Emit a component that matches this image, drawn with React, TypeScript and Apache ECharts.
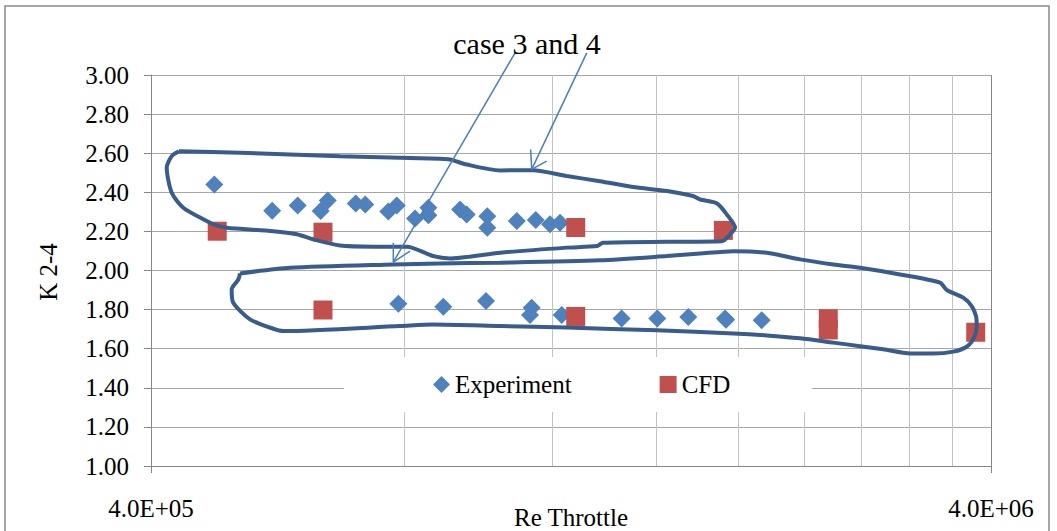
import React, { useEffect, useRef } from "react";
import * as echarts from "echarts";

// ---- data ----
const xMajorTicks = [4e5, 4e6];
const xMinorGrid = [8e5, 1.2e6, 1.6e6, 2.0e6, 2.4e6, 2.8e6, 3.2e6, 3.6e6];

const experiment: [number, number][] = [
  [475800, 2.44], [557600, 2.306], [598000, 2.333], [636900, 2.304], [649300, 2.358],
  [701100, 2.343], [719700, 2.338], [766600, 2.302], [784500, 2.333], [825000, 2.266],
  [855600, 2.321], [855600, 2.282], [933300, 2.312], [950400, 2.287], [1005700, 2.278],
  [1005700, 2.219], [1090300, 2.253], [1148400, 2.258], [1194200, 2.236], [1227400, 2.244],
  [788000, 1.83], [891400, 1.815], [1002000, 1.844], [1135700, 1.81], [1130400, 1.772],
  [1233100, 1.772], [1453300, 1.755], [1602400, 1.755], [1744600, 1.762], [1929600, 1.755],
  [1935000, 1.748], [2133400, 1.746],
];

const cfd: [number, number][] = [
  [479600, 2.201], [640900, 2.196], [640900, 1.798], [1281400, 2.22], [1281400, 1.765],
  [1920600, 2.205], [2560600, 1.753], [2560600, 1.696], [3836000, 1.684],
];

// hand-drawn annotation outlines (Re, K)
const outlineUpper: [number, number][] = [
  [431900, 2.61], [510500, 2.602], [671500, 2.585], [883300, 2.572], [907900, 2.568],
  [950400, 2.542], [1041400, 2.512], [1140000, 2.513], [1250200, 2.483], [1369400, 2.457],
  [1499500, 2.427], [1646100, 2.407], [1767300, 2.381], [1801900, 2.363], [1887800, 2.343],
  [1945600, 2.278], [1983200, 2.22], [1956400, 2.185], [1912400, 2.15], [1646100, 2.147],
  [1380700, 2.142], [1358500, 2.125], [1251000, 2.117], [1041400, 2.091], [907900, 2.062],
  [866600, 2.074], [806800, 2.122], [735700, 2.122], [671500, 2.128], [624200, 2.159],
  [596600, 2.185], [559300, 2.201], [492200, 2.219], [476700, 2.233], [466000, 2.253],
  [437000, 2.321], [423400, 2.398], [417600, 2.526], [423400, 2.585], [431900, 2.61],
];

const outlineLower: [number, number][] = [
  [510500, 1.985], [585500, 2.014], [777200, 2.031], [883300, 2.036], [1041400, 2.04],
  [1369400, 2.052], [1644600, 2.074], [1801900, 2.087], [1973900, 2.099], [2163000, 2.091],
  [2370300, 2.057], [2596200, 2.031], [2793600, 2.014], [3117300, 1.98], [3478700, 1.938],
  [3543200, 1.9], [3707200, 1.861], [3793700, 1.818], [3838800, 1.767], [3846400, 1.716],
  [3818100, 1.656], [3742400, 1.61], [3607800, 1.585], [3415400, 1.575], [3203800, 1.576],
  [2976200, 1.597], [2793600, 1.613], [2596200, 1.631], [2370300, 1.653], [2163000, 1.668],
  [1973900, 1.678], [1599800, 1.694], [1250200, 1.708], [1041400, 1.716], [867400, 1.724],
  [791600, 1.716], [574900, 1.69], [559300, 1.702], [524700, 1.75], [501200, 1.835],
  [499000, 1.903], [508200, 1.954], [510500, 1.985],
];

const arrow1Shaft: [number, number][] = [[1085000, 3.113], [777200, 2.043]];
const arrow1Head: [number, number][] = [[777200, 2.142], [777200, 2.043], [813600, 2.099]];
const arrow2Shaft: [number, number][] = [[1320700, 3.113], [1135700, 2.517]];
const arrow2Head: [number, number][] = [[1132600, 2.619], [1135700, 2.517], [1183200, 2.559]];

const FONT = "Liberation Serif, Times New Roman, serif";

const fmtSci = (v: number) => {
  const e = Math.floor(Math.log10(v) + 1e-9);
  const m = v / Math.pow(10, e);
  return m.toFixed(1) + "E" + (e >= 0 ? "+" : "-") + String(Math.abs(e)).padStart(2, "0");
};

export default function App() {
  const ref = useRef<HTMLDivElement>(null);
  useEffect(() => {
    if (!ref.current) return;
    const chart = echarts.init(ref.current, undefined, { renderer: "svg" });
    const outlineStyle = { color: "#385c8c", width: 4 };
    const arrowStyle = { color: "#4a7ebb", width: 1.5 };
    const lineSeries = (data: [number, number][], style: any, smooth: number | boolean, z: number) => ({
      type: "line",
      data,
      xAxisIndex: 0,
      yAxisIndex: 0,
      showSymbol: false,
      symbol: "none",
      smooth,
      clip: false,
      silent: true,
      lineStyle: style,
      z,
      legendHoverLink: false,
      tooltip: { show: false },
    });
    chart.setOption({
      animation: false,
      textStyle: { fontFamily: FONT },
      grid: { left: 151, top: 75, width: 840, height: 391, containLabel: false },
      xAxis: [
        {
          type: "log",
          logBase: 10,
          min: 4e5,
          max: 4e6,
          axisLine: { show: true, lineStyle: { color: "#868686", width: 1 } },
          axisTick: { show: true, length: 7, inside: false, customValues: xMajorTicks, lineStyle: { color: "#868686" } },
          axisLabel: {
            show: true,
            customValues: xMajorTicks,
            formatter: (v: number) => fmtSci(v),
            fontSize: 25,
            fontFamily: FONT,
            color: "#000",
            margin: 30,
          },
          splitLine: { show: true, lineStyle: { color: "#868686", width: 1 } },
          z: 2,
        },
        {
          type: "log",
          logBase: 10,
          min: 4e5,
          max: 4e6,
          axisLine: { show: false },
          axisTick: { show: false, customValues: xMinorGrid },
          axisLabel: { show: false, customValues: xMinorGrid },
          splitLine: { show: true, lineStyle: { color: "#c3c3c3", width: 1 } },
          z: 1,
        },
      ],
      yAxis: {
        type: "value",
        min: 1,
        max: 3,
        interval: 0.2,
        axisLine: { show: true, lineStyle: { color: "#868686", width: 1 } },
        axisTick: { show: true, length: 7, lineStyle: { color: "#868686" } },
        axisLabel: {
          formatter: (v: number) => v.toFixed(2),
          fontSize: 25,
          fontFamily: FONT,
          color: "#000",
          margin: 22,
        },
        splitLine: { show: true, lineStyle: { color: "#a6a6a6", width: 1 } },
      },
      legend: {
        data: ["Experiment", "CFD"],
        left: 344,
        top: 357,
        orient: "horizontal",
        itemWidth: 17,
        itemHeight: 17,
        itemGap: 88,
        padding: [15, 82, 15, 89],
        backgroundColor: "#ffffff",
        textStyle: { fontSize: 25, fontFamily: FONT, color: "#000" },
        z: 4,
      },
      series: [
        {
          name: "Experiment",
          type: "scatter",
          symbol: "diamond",
          symbolSize: 18,
          itemStyle: { color: "#4f81bd", opacity: 1 },
          data: experiment,
          z: 3,
        },
        {
          name: "CFD",
          type: "scatter",
          symbol: "rect",
          symbolSize: 19,
          itemStyle: { color: "#c0504d", opacity: 1 },
          data: cfd,
          z: 3,
        },
        lineSeries(outlineUpper, outlineStyle, 0.25, 5),
        lineSeries(outlineLower, outlineStyle, 0.25, 5),
        lineSeries(arrow1Shaft, arrowStyle, false, 6),
        lineSeries(arrow1Head, arrowStyle, false, 6),
        lineSeries(arrow2Shaft, arrowStyle, false, 6),
        lineSeries(arrow2Head, arrowStyle, false, 6),
      ],
      graphic: [
        {
          type: "rect",
          shape: { x: 5, y: 6, width: 1044, height: 540 },
          style: { fill: "none", stroke: "#8a8a8a", lineWidth: 1.5 },
          silent: true,
          z: 0,
        },
        {
          type: "text",
          x: 527,
          y: 43,
          style: {
            text: "case 3 and 4",
            fontSize: 30,
            fontFamily: FONT,
            fill: "#000",
            align: "center",
            verticalAlign: "middle",
            textAlign: "center",
            textVerticalAlign: "middle",
          },
          z: 10,
        },
        {
          type: "text",
          x: 48,
          y: 272,
          rotation: Math.PI / 2,
          style: {
            text: "K 2-4",
            fontSize: 25,
            fontFamily: FONT,
            fill: "#000",
            align: "center",
            verticalAlign: "middle",
            textAlign: "center",
            textVerticalAlign: "middle",
          },
          z: 10,
        },
        {
          type: "text",
          x: 571,
          y: 517,
          style: {
            text: "Re Throttle",
            fontSize: 25,
            fontFamily: FONT,
            fill: "#000",
            align: "center",
            verticalAlign: "middle",
            textAlign: "center",
            textVerticalAlign: "middle",
          },
          z: 10,
        },
      ],
    });
    return () => chart.dispose();
  }, []);
  return (
    <div
      ref={ref}
      style={{ position: "fixed", left: 0, top: 0, width: 1057, height: 531, background: "#fff" }}
    />
  );
}
